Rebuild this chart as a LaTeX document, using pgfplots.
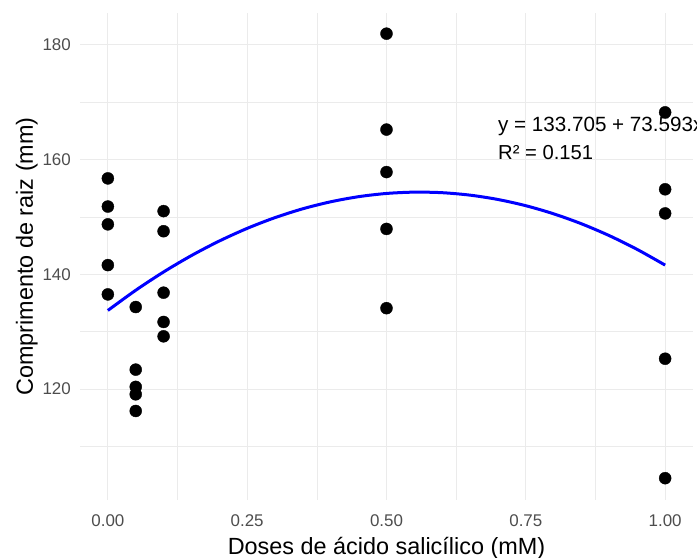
\documentclass[border=0pt]{standalone}
\usepackage{pgfplots}
\pgfplotsset{compat=1.18}
\usepackage{fontspec}
\setmainfont{Liberation Sans}
\definecolor{gridc}{HTML}{EBEBEB}
\definecolor{tickc}{HTML}{4D4D4D}
\begin{document}
\begin{tikzpicture}
\begin{axis}[
  at={(0,0)}, anchor=south west,
  scale only axis, width=613bp, height=487bp,
  xmin=-0.05, xmax=1.05, ymin=100.7, ymax=185.5,
  xtick={0,0.25,0.5,0.75,1}, xticklabels={0.00,0.25,0.50,0.75,1.00},
  ytick={120,140,160,180},
  minor xtick={0.125,0.375,0.625,0.875},
  minor ytick={110,130,150,170},
  grid=both,
  major grid style={draw=gridc, line width=1.2bp},
  minor grid style={draw=gridc, line width=0.6bp},
  axis line style={draw=none},
  major tick length=0pt, minor tick length=0pt,
  tick style={draw=none},
  /pgf/number format/assume math mode=true,
  ticklabel style={font=\fontsize{17}{20}\selectfont, text=tickc, inner sep=0pt},
  xticklabel style={anchor=north, yshift=-14bp},
  yticklabel style={anchor=east, xshift=-9bp},
  xlabel={Doses de ácido salicílico (mM)},
  ylabel={Comprimento de raiz (mm)},
  label style={font=\fontsize{23.5}{27}\selectfont, inner sep=0pt},
  xlabel style={at={(axis description cs:0.5,-0.1109)}, anchor=base},
  ylabel style={at={(axis description cs:-0.0767,0.5)}, anchor=base, rotate=0},
  clip=false,
]
\addplot[blue, line width=3bp, smooth] coordinates {
(0,133.705) (0.05,137.221) (0.1,140.407) (0.15,143.266) (0.2,145.796)
(0.25,147.997) (0.3,149.870) (0.35,151.415) (0.4,152.630) (0.45,153.518)
(0.5,154.077) (0.55,154.307) (0.6,154.209) (0.65,153.782) (0.7,153.027)
(0.75,151.944) (0.8,150.531) (0.85,148.791) (0.9,146.722) (0.95,144.324)
(1,141.598)};
\addplot[only marks, mark=*, mark size=6bp, black] coordinates {
(0,156.7) (0,151.8) (0,148.7) (0,141.6) (0,136.5)
(0.05,134.3) (0.05,123.4) (0.05,120.4) (0.05,119.1) (0.05,116.2)
(0.1,151.0) (0.1,147.5) (0.1,136.8) (0.1,131.7) (0.1,129.2)
(0.5,181.9) (0.5,165.2) (0.5,157.8) (0.5,147.9) (0.5,134.1)
(1,168.2) (1,154.8) (1,150.6) (1,125.3) (1,104.5)};
\node[anchor=base west, inner sep=0pt, font=\fontsize{20.7}{24}\selectfont] at (axis cs:0.7,164.9) {y = 133.705 + 73.593x − 65.704x²};
\node[anchor=base west, inner sep=0pt, font=\fontsize{20.3}{24}\selectfont] at (axis cs:0.7,159.95) {R² = 0.151};
\end{axis}
\pgfresetboundingbox
\path[use as bounding box] (-80bp,-58bp) rectangle (617bp,500bp);
\end{tikzpicture}
\end{document}
